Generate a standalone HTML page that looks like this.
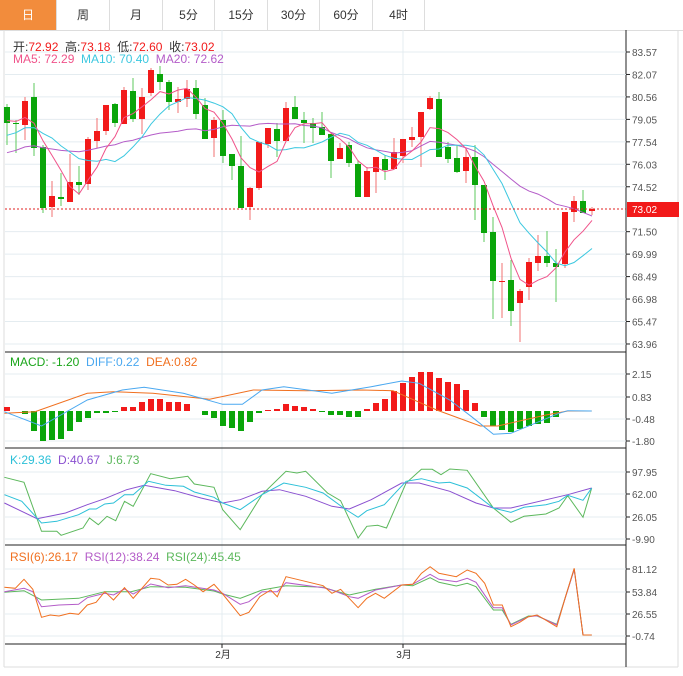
<!DOCTYPE html>
<html><head><meta charset="utf-8"><style>
body{margin:0;background:#fff;width:683px;height:676px;overflow:hidden;font-family:"Liberation Sans","Noto Sans CJK SC",sans-serif}
.tabs{position:absolute;left:0;top:0;height:30px;width:683px;border-bottom:1px solid #ddd}
.tab{position:absolute;top:0;height:30px;line-height:30px;text-align:center;font-size:12px;color:#333;border-right:1px solid #ddd}
.lbl{position:absolute;font-size:12px;white-space:nowrap}
</style></head><body>
<div class="tabs">
<div class="tab" style="left:0;width:56px;background:#f28c3c;color:#fff">日</div>
<div class="tab" style="left:57px;width:52px">周</div>
<div class="tab" style="left:110px;width:52px">月</div>
<div class="tab" style="left:163px;width:51px">5分</div>
<div class="tab" style="left:215px;width:52px">15分</div>
<div class="tab" style="left:268px;width:51px">30分</div>
<div class="tab" style="left:320px;width:52px">60分</div>
<div class="tab" style="left:373px;width:51px">4时</div>
</div>
<svg id="s" width="683" height="676" style="position:absolute;left:0;top:0"></svg>
<div class="lbl" style="left:13px;top:38px;color:#333">开:<span style="color:#f21a1a">72.92</span>&nbsp; 高:<span style="color:#f21a1a">73.18</span>&nbsp; 低:<span style="color:#f21a1a">72.60</span>&nbsp; 收:<span style="color:#f21a1a">73.02</span></div>
<div class="lbl" style="left:13px;top:52px"><span style="color:#f0538a">MA5: 72.29</span>&nbsp; <span style="color:#3cc8e0">MA10: 70.40</span>&nbsp; <span style="color:#b45cc8">MA20: 72.62</span></div>
<div class="lbl" style="left:10px;top:355px"><span style="color:#1aa51a">MACD: -1.20</span>&nbsp; <span style="color:#4aa8f0">DIFF:0.22</span>&nbsp; <span style="color:#f07020">DEA:0.82</span></div>
<div class="lbl" style="left:10px;top:453px"><span style="color:#2cc0d8">K:29.36</span>&nbsp; <span style="color:#8a50d0">D:40.67</span>&nbsp; <span style="color:#5cb85c">J:6.73</span></div>
<div class="lbl" style="left:10px;top:550px"><span style="color:#f07020">RSI(6):26.17</span>&nbsp; <span style="color:#b45cc8">RSI(12):38.24</span>&nbsp; <span style="color:#5cb85c">RSI(24):45.45</span></div>
<script>
var s=document.getElementById('s'),h='';
function L(x1,y1,x2,y2,c,w,d){h+='<line x1="'+x1+'" y1="'+y1+'" x2="'+x2+'" y2="'+y2+'" stroke="'+c+'" stroke-width="'+(w||1)+'"'+(d?' stroke-dasharray="'+d+'"':'')+'/>';}
function T(x,y,t,c,a){h+='<text x="'+x+'" y="'+y+'" font-size="10" fill="'+(c||'#555')+'"'+(a?' text-anchor="middle"':'')+'>'+t+'</text>';}
function P(pts,c,sc){var d=pts.map(function(p){return (sc?(p[0]/2.29).toFixed(1):p[0])+','+(sc?(sc+p[1]/3).toFixed(1):p[1].toFixed(1))}).join(' ');h+='<polyline points="'+d+'" fill="none" stroke="'+c+'" stroke-width="1"/>';}
// frame
L(4,30,4,667,'#ddd');L(4,667,678,667,'#ddd');L(678,30,678,667,'#ddd');
L(626,30,626,667,'#222');
// grids
var pt=['83.57','82.07','80.56','79.05','77.54','76.03','74.52','73.02','71.50','69.99','68.49','66.98','65.47','63.96'];
for(var i=0;i<14;i++){var y=52+i*22.46;if(i!=7){L(5,y,626,y,'#e4ecf0');L(626,y,630,y,'#222');T(632,y+4,pt[i]);}}
[[374,'2.15'],[397,'0.83'],[419,'-0.48'],[441,'-1.80']].forEach(function(a){L(5,a[0],626,a[0],'#e4ecf0');L(626,a[0],630,a[0],'#222');T(632,a[0]+4,a[1]);});
[[472,'97.95'],[494,'62.00'],[517,'26.05'],[539,'-9.90']].forEach(function(a){L(5,a[0],626,a[0],'#e4ecf0');L(626,a[0],630,a[0],'#222');T(632,a[0]+4,a[1]);});
[[569,'81.12'],[592,'53.84'],[614,'26.55'],[636,'-0.74']].forEach(function(a){L(5,a[0],626,a[0],'#e4ecf0');L(626,a[0],630,a[0],'#222');T(632,a[0]+4,a[1]);});
L(222,30,222,644,'#e4ecf0');L(403,30,403,644,'#e4ecf0');
L(5,352,626,352,'#222');L(5,448,626,448,'#222');L(5,545,626,545,'#222');L(5,644,626,644,'#222');
L(222,644,222,648,'#222');L(403,644,403,648,'#222');
T(223,658,'2月','#333',1);T(404,658,'3月','#333',1);
// candles: [color, bodyTop, bodyBot, wickTop, wickBot]
var C=[['g',107,123,104,145],['g',123,124,120,153],['r',101,125,97,140],['g',97,148,83,156],['g',147,208,145,213],['r',196,207,181,217],['g',197,199,173,206],['r',182,202,154,202],['g',182,185,166,195],['r',139,184,137,190],
['r',131,141,118,148],['r',105,131,105,135],['g',104,123,103,127],['r',90,124,87,124],['g',91,119,78,122],['r',97,119,88,134],['r',70,93,68,96],['g',74,82,66,90],['g',82,102,80,110],['r',99,102,87,113],
['r',89,99,80,107],['g',88,114,80,119],['g',105,139,98,139],['r',120,138,117,157],['g',120,156,110,163],['g',154,166,154,180],['g',166,208,136,208],['r',188,207,187,220],['r',142,188,142,190],['r',128,144,128,148],
['g',129,141,123,157],['r',108,141,102,141],['g',107,119,96,119],['g',120,123,112,143],['g',123,128,118,143],['g',127,135,112,135],['g',134,161,134,178],['r',148,159,143,159],['g',145,163,142,167],['g',164,197,160,197],
['r',171,197,167,197],['r',157,172,157,193],['g',159,170,155,180],['r',152,169,138,169],['r',139,156,139,163],['r',137,140,127,147],['r',112,137,112,167],['r',98,109,96,110],['g',99,157,92,157],['g',147,159,142,163],
['g',158,172,145,173],['r',157,171,148,183],['g',157,185,145,220],['g',185,233,185,242],['g',232,281,217,319],['r',281,282,263,318],['g',280,311,260,326],['r',291,303,289,342],['r',262,287,258,300],['r',256,263,235,271],
['g',256,263,231,267],['g',263,267,249,302],['r',212,264,212,268],['r',201,212,196,222],['g',201,213,190,213],['r',209,211,207,215]];
var closes=[],hist=[170,170,170,170,170,170,170,170,170,170,150,150,150,150,150,120,120,120,120];
C.forEach(function(c,i){var x=7+i*9,col=c[0]=='r'?'#f21a1a':'#0aa50a',wc=c[0]=='r'?'#f27070':'#5cc85c';
L(x,c[3],x,c[4],wc);h+='<rect x="'+(x-3)+'" y="'+c[1]+'" width="6" height="'+Math.max(1,c[2]-c[1])+'" fill="'+col+'"/>';
closes.push(c[0]=='r'?c[1]:c[2]);});
var all=hist.concat(closes);
function MA(n,col){var pts=[];for(var i=0;i<closes.length;i++){var k=i+19,sum=0;for(var j=0;j<n;j++)sum+=all[k-j];pts.push([7+i*9,sum/n]);}P(pts,col);}
MA(20,'#b45cc8');MA(10,'#3cc8e0');MA(5,'#f0538a');
L(5,209,626,209,'#e02020',1,'2,2');
h+='<rect x="627" y="202" width="52" height="15" fill="#f21a1a"/>';T(632,213,'73.02','#fff');
// MACD
var M=[407,411,414,431,441,440,439,431,422,418,413,413,412,407,407,402,399,399,402,402,404,411,415,418,426,428,431,422,413,410,409,404,406,407,409,412,415,415,417,417,409,403,399,391,383,377,372,372,378,382,384,390,403,417,426,430,432,429,426,424,423,417,411,411,411,411];
M.forEach(function(v,i){var x=7+i*9,r=(i==0||(i>=13&&i<=20)||(i>=29&&i<=34)||(i>=40&&i<=52));if(Math.abs(v-411)<1)return;var y0=Math.min(v,411),hh=Math.abs(v-411);h+='<rect x="'+(x-3)+'" y="'+y0+'" width="6" height="'+hh+'" fill="'+(r?'#f21a1a':'#0aa50a')+'"/>';});
P([[10,190],[80,185],[200,130],[260,125],[350,130],[480,148],[580,120],[700,122],[830,120],[900,122],[1000,180],[1100,228],[1140,228],[1250,195],[1300,183],[1355,183]],'#f07020',350);
P([[10,185],[95,228],[200,150],[280,120],[330,112],[420,130],[510,163],[555,163],[600,120],[650,110],[760,130],[850,110],[920,93],[960,100],[1030,150],[1080,200],[1130,253],[1170,250],[1280,190],[1300,182],[1355,183]],'#4aa8f0',350);
// KDJ
P([[10,88],[55,103],[95,250],[130,250],[140,262],[190,240],[205,210],[225,230],[245,205],[265,218],[285,160],[305,175],[345,77],[390,92],[430,85],[445,108],[490,118],[510,185],[550,245],[600,140],[655,70],[680,75],[700,70],[750,135],[780,158],[820,270],[840,235],[865,232],[885,240],[930,105],[965,64],[990,64],[1010,80],[1030,63],[1070,67],[1130,180],[1170,223],[1200,205],[1250,198],[1280,180],[1300,143],[1335,208],[1355,120]],'#5cb85c',448);
P([[10,165],[85,212],[150,195],[200,170],[240,152],[290,125],[330,112],[400,128],[460,150],[510,165],[550,155],[600,130],[640,125],[700,145],[760,175],[800,183],[850,155],[920,105],[960,105],[1030,130],[1090,165],[1130,180],[1170,180],[1300,140],[1355,120]],'#8a50d0',448);
P([[10,140],[50,160],[95,225],[130,220],[180,200],[205,183],[220,183],[240,168],[260,165],[285,140],[305,140],[340,100],[380,112],[420,115],[445,132],[490,148],[510,165],[550,185],[600,140],[650,105],[700,118],[740,135],[790,183],[820,208],[840,188],[880,170],[930,100],[965,92],[1005,105],[1030,103],[1070,120],[1130,180],[1170,193],[1200,178],[1250,170],[1280,160],[1300,142],[1335,157],[1355,120]],'#2cc0d8',448);
// RSI
P([[10,142],[55,137],[95,165],[180,160],[240,140],[300,140],[345,125],[425,127],[490,138],[510,147],[550,160],[600,135],[655,122],[740,127],[760,135],[800,150],[860,133],[920,120],[945,122],[985,98],[1005,112],[1045,123],[1070,115],[1090,125],[1130,195],[1150,195],[1170,238],[1210,213],[1230,213],[1275,238],[1315,73],[1335,270],[1355,270]],'#5cb85c',545);
P([[10,140],[55,130],[75,140],[95,185],[135,180],[180,178],[200,158],[240,145],[260,150],[285,132],[305,147],[345,117],[385,128],[425,122],[490,135],[510,145],[550,178],[570,170],[600,140],[635,140],[655,113],[740,128],[760,135],[800,155],[820,160],[860,135],[920,120],[945,118],[985,88],[1005,103],[1045,110],[1070,100],[1090,112],[1130,188],[1150,188],[1170,240],[1210,215],[1230,212],[1275,240],[1315,73],[1335,270],[1355,270]],'#b45cc8',545);
P([[10,127],[35,130],[55,103],[75,133],[95,217],[115,210],[135,213],[160,205],[180,208],[200,180],[220,172],[240,140],[260,165],[285,128],[305,160],[345,100],[365,103],[385,120],[405,118],[425,103],[445,120],[465,140],[490,118],[510,147],[550,212],[570,202],[595,155],[620,135],[635,155],[655,95],[680,103],[740,122],[760,145],[780,133],[820,188],[840,160],[860,145],[880,160],[920,120],[945,118],[965,85],[985,65],[1005,85],[1045,95],[1070,75],[1090,85],[1110,115],[1130,180],[1150,180],[1170,245],[1190,232],[1210,215],[1230,210],[1275,245],[1295,155],[1315,70],[1335,270],[1355,270]],'#f07020',545);
s.innerHTML=h;
</script>
</body></html>
